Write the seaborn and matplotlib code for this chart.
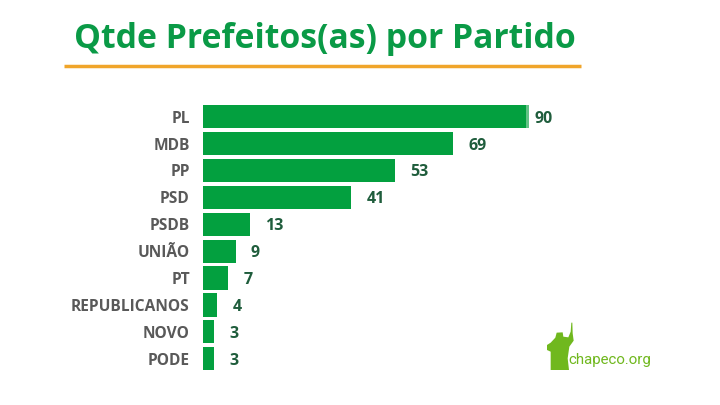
#############################################
########## 1. Import Libraries
#############################################
import matplotlib
matplotlib.use("Agg")
import matplotlib.pyplot as plt
from matplotlib import font_manager
from matplotlib.patches import Polygon
from matplotlib.lines import Line2D
import pandas as pd
import seaborn as sns

#############################################
########## 2. Data
#############################################
partidos = ["PL", "MDB", "PP", "PSD", "PSDB", "UNIÃO", "PT", "REPUBLICANOS", "NOVO", "PODE"]
prefeitos = [90, 69, 53, 41, 13, 9, 7, 4, 3, 3]
# PL bar has a lighter tip at the end
parte_solida = [89.2, 69, 53, 41, 13, 9, 7, 4, 3, 3]

dataframe = pd.DataFrame({"partido": partidos, "total": prefeitos, "solido": parte_solida})

VERDE = "#03a03f"
VERDE_CLARO = "#62c285"
VERDE_TITULO = "#0a9a46"
VERDE_VALOR = "#1f5d3c"
CINZA = "#595959"
LARANJA = "#f0a52a"
VERDE_LOGO = "#70b81e"

W, H = 720, 405

#############################################
########## 3. Plot
#############################################
sns.set_theme(style="white")
plt.rcParams["font.family"] = ["Open Sans", "DejaVu Sans"]

fig = plt.figure(figsize=(7.2, 4.05), dpi=100, facecolor="white")
ax = fig.add_axes([203 / W, 1 - 372.2 / H, 397 / W, 269 / H])

sns.barplot(data=dataframe, y="partido", x="total", color=VERDE_CLARO, saturation=1, width=0.86, linewidth=0, ax=ax)
sns.barplot(data=dataframe, y="partido", x="solido", color=VERDE, saturation=1, width=0.86, linewidth=0, ax=ax)

ax.set_xlim(0, 397 / 3.62)
ax.set_xlabel("")
ax.set_ylabel("")
ax.set_xticks([])
ax.tick_params(axis="y", length=0, pad=9.5)
for label in ax.get_yticklabels():
    label.set_fontsize(11.2)
    label.set_fontweight("bold")
    label.set_color(CINZA)
sns.despine(ax=ax, left=True, bottom=True)

# Value labels, the PL one sits closer to its bar
for i, valor in enumerate(prefeitos):
    offset = 4 if i == 0 else 11
    ax.annotate(str(valor), xy=(valor, i), xytext=(offset, 0), textcoords="offset points",
                va="center_baseline", ha="left", fontsize=11.5, fontweight="bold", color=VERDE_VALOR)

# Title and orange rule
fig.text(74 / W, 1 - 48 / H, "Qtde Prefeitos(as) por Partido", fontsize=24.3, fontweight="bold",
         color=VERDE_TITULO, ha="left", va="baseline")
fig.add_artist(Line2D([64 / W, 581 / W], [1 - 66 / H, 1 - 66 / H], color=LARANJA, linewidth=2.5,
                      solid_capstyle="butt"))

# chapeco.org logo
silhueta = [(152, 210), (152, 155), (141, 150), (141, 135), (152, 128), (166, 113), (170, 98), (188, 97),
            (190, 110), (205, 112), (212, 95), (214, 68), (217, 68), (218, 100), (221, 122), (208, 140),
            (203, 175), (207, 210)]
silhueta_fig = [((500 + x / 3) / W, 1 - (300 + y / 3) / H) for x, y in silhueta]
fig.add_artist(Polygon(silhueta_fig, closed=True, facecolor=VERDE_LOGO, edgecolor="none",
                       transform=fig.transFigure))
nomes = {f.name for f in font_manager.fontManager.ttflist}
fonte_logo = "Liberation Sans Narrow" if "Liberation Sans Narrow" in nomes else "Roboto"
fig.text(568 / W, 1 - 364 / H, "chapeco.org", fontsize=14 if fonte_logo != "Roboto" else 10.8,
         color=VERDE_LOGO, family=[fonte_logo, "DejaVu Sans"], ha="left", va="baseline")

fig.savefig("out.png", dpi=100, facecolor="white")
